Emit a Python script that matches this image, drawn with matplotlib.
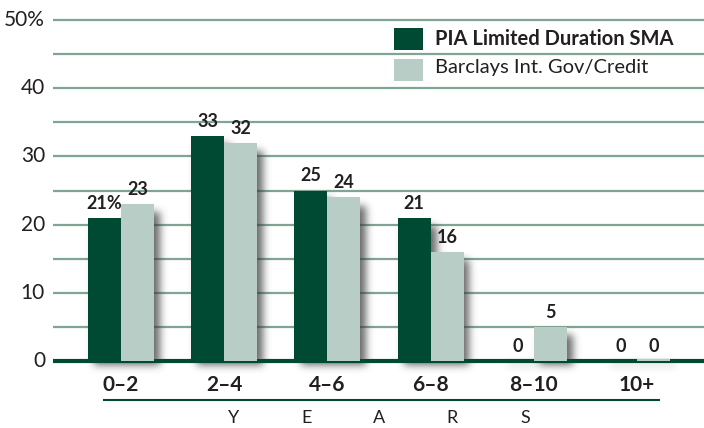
import numpy as np
import matplotlib
matplotlib.use("Agg")
import matplotlib.pyplot as plt
from matplotlib.patches import Rectangle

plt.rcParams['font.family'] = ['Lato', 'DejaVu Sans']

categories = ["0–2", "2–4", "4–6", "6–8", "8–10", "10+"]
pia = [21, 33, 25, 21, 0, 0]
barclays = [23, 32, 24, 16, 5, 0]
pia_labels = ["21%", "33", "25", "21", "0", "0"]
barclays_labels = ["23", "32", "24", "16", "5", "0"]
series_names = ["PIA Limited Duration SMA", "Barclays Int. Gov/Credit"]
yticks = [0, 10, 20, 30, 40, 50]
ytick_labels = ["0", "10", "20", "30", "40", "50%"]
axis_word = "YEARS"

DARK = "#004a33"
LIGHT = "#b7cdc6"
GRID = "#7fa593"
TEXT = "#231f20"

W, H = 704, 428
fig = plt.figure(figsize=(W / 100, H / 100), dpi=100)
# axes in pixel terms: x 53..704, y(0)=361, y(50)=20
y0_px, y50_px = 361, 20
ppu = (y0_px - y50_px) / 50.0
ylo, yhi = -3.0, 50.3
bottom = (H - (y0_px + (0 - ylo) * ppu)) / H
height = (yhi - ylo) * ppu / H
ax = fig.add_axes([53 / W, bottom, (W - 53) / W, height])
ax.set_ylim(ylo, yhi)
xppu = (637 - 121) / 5.0
xlo, xhi = (53 - 121) / xppu, (704 - 121) / xppu
ax.set_xlim(xlo, xhi)
for s in ax.spines.values():
    s.set_visible(False)
ax.set_xticks([])
ax.set_yticks([])

# gridlines every 5
for g in np.arange(5, 51, 5):
    ax.axhline(g, color=GRID, lw=1.6, zorder=1)

x = np.arange(len(categories))
bw = 33 / xppu

# blurred drop shadow built from the bar rectangles
nx, ny = W - 53, int(round((yhi - ylo) * ppu))
gx = np.linspace(xlo, xhi, nx)
gy = np.linspace(ylo, yhi, ny)
XX, YY = np.meshgrid(gx, gy)
sdx, sdy = 6 / xppu, 9 / ppu
mask = np.zeros_like(XX)
for i in range(len(categories)):
    for left, h in ((x[i] - bw, pia[i]), (x[i], barclays[i])):
        h = max(h, 0.8)
        inside = ((XX >= left + sdx) & (XX <= left + bw + sdx) &
                  (YY >= -sdy * 0.6) & (YY <= h - sdy))
        mask[inside] = 1.0
sig = 4.0
k = np.arange(-13, 14)
kern = np.exp(-k ** 2 / (2 * sig ** 2))
kern /= kern.sum()
mask = np.apply_along_axis(lambda r: np.convolve(r, kern, mode="same"), 1, mask)
mask = np.apply_along_axis(lambda c: np.convolve(c, kern, mode="same"), 0, mask)
rgba = np.zeros(mask.shape + (4,))
rgba[..., :3] = 0.22
rgba[..., 3] = np.clip(mask * 0.75, 0, 1)
ax.imshow(rgba, extent=(xlo, xhi, ylo, yhi), origin="lower", aspect="auto",
          interpolation="bilinear", zorder=2)

ax.plot([xlo, xhi], [0, 0], color=DARK, lw=3, zorder=4, solid_capstyle="butt")

ax.bar(x - bw / 2, [max(v, 0.3) for v in pia], bw, color=DARK, zorder=5)
ax.bar(x + bw / 2, [max(v, 0.3) for v in barclays], bw, color=LIGHT, zorder=5)

for i in range(len(categories)):
    ax.annotate(pia_labels[i], (x[i] - bw / 2, pia[i]), xytext=(0, 4.5), textcoords="offset points",
                ha="center", va="bottom", fontsize=13, fontweight="bold", color=TEXT, zorder=6)
    ax.annotate(barclays_labels[i], (x[i] + bw / 2, barclays[i]), xytext=(0, 4.5), textcoords="offset points",
                ha="center", va="bottom", fontsize=13, fontweight="bold", color=TEXT, zorder=6)

# y tick labels
for v, lab in zip(yticks, ytick_labels):
    fig.text(45 / W, 1 - (y0_px - v * ppu) / H, lab, ha="right", va="center",
             fontsize=15, color=TEXT)

# category labels
for i, c in enumerate(categories):
    fig.text((121 + i * xppu) / W, 1 - 385 / H, c, ha="center", va="center",
             fontsize=15, fontweight="bold", color=TEXT)

fig.add_artist(plt.Line2D([104 / W, 659 / W], [1 - 400 / H, 1 - 400 / H], color=DARK, lw=1.5))
for j, ch in enumerate(axis_word):
    fig.text((234 + j * 72.7) / W, 1 - 418 / H, ch, ha="center", va="center",
             fontsize=13, color=TEXT)

# legend
fig.add_artist(Rectangle((394 / W, 1 - 50 / H), 29 / W, 22 / H, facecolor=DARK, lw=0))
fig.add_artist(Rectangle((394 / W, 1 - 81 / H), 29 / W, 22 / H, facecolor=LIGHT, lw=0))
fig.text(435 / W, 1 - 39 / H, series_names[0], ha="left", va="center", fontsize=14.5,
         fontweight="bold", color=TEXT)
fig.text(435 / W, 1 - 68 / H, series_names[1], ha="left", va="center", fontsize=14.5, color=TEXT)

fig.savefig("out.png", dpi=100)
